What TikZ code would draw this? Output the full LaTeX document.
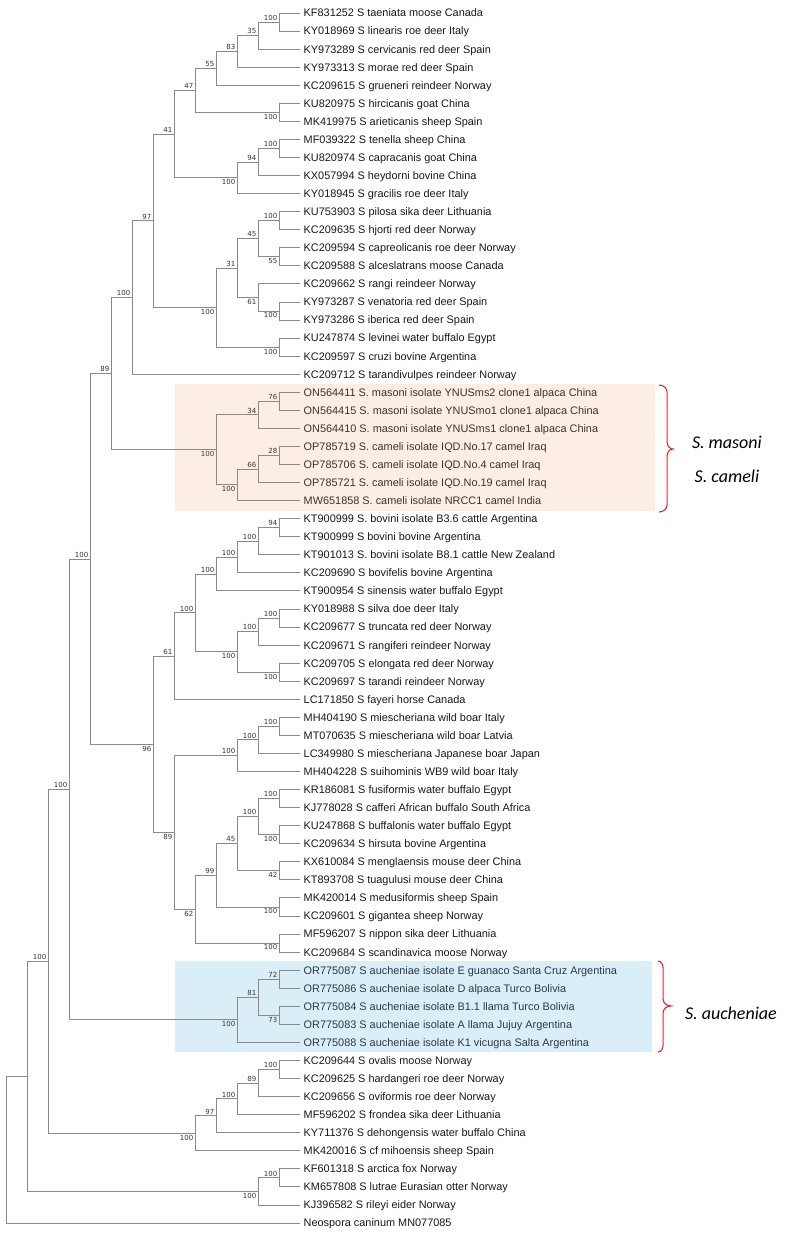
\documentclass[tikz,border=0pt]{standalone}
\usepackage{fontspec}
\setmainfont{Liberation Sans}
\newfontfamily\bsfont{DejaVu Sans}
\newfontfamily\cladefont{Carlito}
\usepackage{tikz}
\definecolor{branchgray}{HTML}{8A8A8A}
\definecolor{masonifill}{HTML}{FDEEE5}
\definecolor{auchfill}{HTML}{DAEEF7}
\definecolor{masonitext}{HTML}{3C332E}
\definecolor{auchtext}{HTML}{2D3A42}
\definecolor{bracketred}{HTML}{E8262B}
\tikzset{
  leaf/.style={anchor=west, inner xsep=3.5pt, inner ysep=0pt, text height=7.8pt, text depth=0pt,
    font=\fontsize{10.9}{12}\selectfont, text=black!90},
  bs/.style={font=\bsfont\fontsize{7}{8}\selectfont, text=black!80, inner sep=1.5pt},
  branch/.style={draw=branchgray, line width=0.9pt},
  bracket/.style={draw=bracketred, line width=1.1pt},
  cladename/.style={font=\cladefont\itshape\fontsize{18}{20}\selectfont, text=black}
}

\begin{document}
\begin{tikzpicture}[x=21pt, y=-18.06pt]
\useasboundingbox (-6pt,13pt) rectangle (779pt,-1220pt);
\fill[masonifill] (8.05,20.55) rectangle (30.9,27.6);
\fill[auchfill] (8.05,52.5) rectangle (30.76,57.53);
%
\node[leaf] (taeniata) at (14,0) {KF831252 S taeniata moose Canada};
\node[leaf] (linearis) at (14,1) {KY018969 S linearis roe deer Italy};
\node[leaf] (cervicanis) at (14,2) {KY973289 S cervicanis red deer Spain};
\node[leaf] (morae) at (14,3) {KY973313 S morae red deer Spain};
\node[leaf] (grueneri) at (14,4) {KC209615 S grueneri reindeer Norway};
\node[leaf] (hircicanis) at (14,5) {KU820975 S hircicanis goat China};
\node[leaf] (arieticanis) at (14,6) {MK419975 S arieticanis sheep Spain};
\node[leaf] (tenella) at (14,7) {MF039322 S tenella sheep China};
\node[leaf] (capracanis) at (14,8) {KU820974 S capracanis goat China};
\node[leaf] (heydorni) at (14,9) {KX057994 S heydorni bovine China};
\node[leaf] (gracilis) at (14,10) {KY018945 S gracilis roe deer Italy};
\node[leaf] (pilosa) at (14,11) {KU753903 S pilosa sika deer Lithuania};
\node[leaf] (hjorti) at (14,12) {KC209635 S hjorti red deer Norway};
\node[leaf] (capreolicanis) at (14,13) {KC209594 S capreolicanis roe deer Norway};
\node[leaf] (alceslatrans) at (14,14) {KC209588 S alceslatrans moose Canada};
\node[leaf] (rangi) at (14,15) {KC209662 S rangi reindeer Norway};
\node[leaf] (venatoria) at (14,16) {KY973287 S venatoria red deer Spain};
\node[leaf] (iberica) at (14,17) {KY973286 S iberica red deer Spain};
\node[leaf] (levinei) at (14,18) {KU247874 S levinei water buffalo Egypt};
\node[leaf] (cruzi) at (14,19) {KC209597 S cruzi bovine Argentina};
\node[leaf] (tarandivulpes) at (14,20) {KC209712 S tarandivulpes reindeer Norway};
\node[leaf, text=masonitext] (masoni1) at (14,21) {ON564411 S. masoni isolate YNUSms2 clone1 alpaca China};
\node[leaf, text=masonitext] (masoni2) at (14,22) {ON564415 S. masoni isolate YNUSmo1 clone1 alpaca China};
\node[leaf, text=masonitext] (masoni3) at (14,23) {ON564410 S. masoni isolate YNUSms1 clone1 alpaca China};
\node[leaf, text=masonitext] (cameli1) at (14,24) {OP785719 S. cameli isolate IQD.No.17 camel Iraq};
\node[leaf, text=masonitext] (cameli2) at (14,25) {OP785706 S. cameli isolate IQD.No.4 camel Iraq};
\node[leaf, text=masonitext] (cameli3) at (14,26) {OP785721 S. cameli isolate IQD.No.19 camel Iraq};
\node[leaf, text=masonitext] (cameli4) at (14,27) {MW651858 S. cameli isolate NRCC1 camel India};
\node[leaf] (bovini1) at (14,28) {KT900999 S. bovini isolate B3.6 cattle Argentina};
\node[leaf] (bovini2) at (14,29) {KT900999 S bovini bovine Argentina};
\node[leaf] (bovini3) at (14,30) {KT901013 S. bovini isolate B8.1 cattle New Zealand};
\node[leaf] (bovifelis) at (14,31) {KC209690 S bovifelis bovine Argentina};
\node[leaf] (sinensis) at (14,32) {KT900954 S sinensis water buffalo Egypt};
\node[leaf] (silva) at (14,33) {KY018988 S silva doe deer Italy};
\node[leaf] (truncata) at (14,34) {KC209677 S truncata red deer Norway};
\node[leaf] (rangiferi) at (14,35) {KC209671 S rangiferi reindeer Norway};
\node[leaf] (elongata) at (14,36) {KC209705 S elongata red deer Norway};
\node[leaf] (tarandi) at (14,37) {KC209697 S tarandi reindeer Norway};
\node[leaf] (fayeri) at (14,38) {LC171850 S fayeri horse Canada};
\node[leaf] (miesch1) at (14,39) {MH404190 S miescheriana wild boar Italy};
\node[leaf] (miesch2) at (14,40) {MT070635 S miescheriana wild boar Latvia};
\node[leaf] (miesch3) at (14,41) {LC349980 S miescheriana Japanese boar Japan};
\node[leaf] (suihominis) at (14,42) {MH404228 S suihominis WB9 wild boar Italy};
\node[leaf] (fusiformis) at (14,43) {KR186081 S fusiformis water buffalo Egypt};
\node[leaf] (cafferi) at (14,44) {KJ778028 S cafferi African buffalo South Africa};
\node[leaf] (buffalonis) at (14,45) {KU247868 S buffalonis water buffalo Egypt};
\node[leaf] (hirsuta) at (14,46) {KC209634 S hirsuta bovine Argentina};
\node[leaf] (menglaensis) at (14,47) {KX610084 S menglaensis mouse deer China};
\node[leaf] (tuagulusi) at (14,48) {KT893708 S tuagulusi mouse deer China};
\node[leaf] (medusiformis) at (14,49) {MK420014 S medusiformis sheep Spain};
\node[leaf] (gigantea) at (14,50) {KC209601 S gigantea sheep Norway};
\node[leaf] (nippon) at (14,51) {MF596207 S nippon sika deer Lithuania};
\node[leaf] (scandinavica) at (14,52) {KC209684 S scandinavica moose Norway};
\node[leaf, text=auchtext] (auch1) at (14,53) {OR775087 S aucheniae isolate E guanaco Santa Cruz Argentina};
\node[leaf, text=auchtext] (auch2) at (14,54) {OR775086 S aucheniae isolate D alpaca Turco Bolivia};
\node[leaf, text=auchtext] (auch3) at (14,55) {OR775084 S aucheniae isolate B1.1 llama Turco Bolivia};
\node[leaf, text=auchtext] (auch4) at (14,56) {OR775083 S aucheniae isolate A llama Jujuy Argentina};
\node[leaf, text=auchtext] (auch5) at (14,57) {OR775088 S aucheniae isolate K1 vicugna Salta Argentina};
\node[leaf] (ovalis) at (14,58) {KC209644 S ovalis moose Norway};
\node[leaf] (hardangeri) at (14,59) {KC209625 S hardangeri roe deer Norway};
\node[leaf] (oviformis) at (14,60) {KC209656 S oviformis roe deer Norway};
\node[leaf] (frondea) at (14,61) {MF596202 S frondea sika deer Lithuania};
\node[leaf] (dehongensis) at (14,62) {KY711376 S dehongensis water buffalo China};
\node[leaf] (mihoensis) at (14,63) {MK420016 S cf mihoensis sheep Spain};
\node[leaf] (arctica) at (14,64) {KF601318 S arctica fox Norway};
\node[leaf] (lutrae) at (14,65) {KM657808 S lutrae Eurasian otter Norway};
\node[leaf] (rileyi) at (14,66) {KJ396582 S rileyi eider Norway};
\node[leaf] (neospora) at (14,67) {Neospora caninum MN077085};
%
\coordinate[label={[bs]above left:100}] (n1) at (13,0.5);
\coordinate[label={[bs]above left:35}] (n2) at (12,1.25);
\coordinate[label={[bs]above left:83}] (n3) at (11,2.125);
\coordinate[label={[bs]above left:55}] (n4) at (10,3.0625);
\coordinate[label={[bs]below left:100}] (n5) at (13,5.5);
\coordinate[label={[bs]above left:47}] (n6) at (9,4.281);
\coordinate[label={[bs]above left:100}] (n7) at (13,7.5);
\coordinate[label={[bs]above left:94}] (n8) at (12,8.25);
\coordinate[label={[bs]below left:100}] (n9) at (11,9.125);
\coordinate[label={[bs]above left:41}] (n10) at (8,6.703);
\coordinate[label={[bs]above left:100}] (n11) at (13,11.5);
\coordinate[label={[bs]below left:55}] (n12) at (13,13.5);
\coordinate[label={[bs]above left:45}] (n13) at (12,12.5);
\coordinate[label={[bs]below left:100}] (n14) at (13,16.5);
\coordinate[label={[bs]below left:61}] (n15) at (12,15.75);
\coordinate[label={[bs]above left:31}] (n16) at (11,14.125);
\coordinate[label={[bs]below left:100}] (n17) at (13,18.5);
\coordinate[label={[bs]below left:100}] (n18) at (10,16.3125);
\coordinate[label={[bs]above left:97}] (n19) at (7,11.508);
\coordinate[label={[bs]above left:100}] (n20) at (6,15.754);
\coordinate[label={[bs,text=masonitext]above left:76}] (m1) at (13,21.5);
\coordinate[label={[bs,text=masonitext]above left:34}] (m2) at (12,22.25);
\coordinate[label={[bs,text=masonitext]above left:28}] (m3) at (13,24.5);
\coordinate[label={[bs,text=masonitext]above left:66}] (m4) at (12,25.25);
\coordinate[label={[bs,text=masonitext]below left:100}] (m5) at (11,26.125);
\coordinate[label={[bs,text=masonitext]below left:100}] (m6) at (10,24.1875);
\coordinate[label={[bs]above left:89}] (n21) at (5,19.971);
\coordinate[label={[bs]above left:94}] (n22) at (13,28.5);
\coordinate[label={[bs]above left:100}] (n23) at (12,29.25);
\coordinate[label={[bs]above left:100}] (n24) at (11,30.125);
\coordinate[label={[bs]above left:100}] (n25) at (10,31.0625);
\coordinate[label={[bs]above left:100}] (n26) at (13,33.5);
\coordinate[label={[bs]above left:100}] (n27) at (12,34.25);
\coordinate[label={[bs]below left:100}] (n28) at (13,36.5);
\coordinate[label={[bs]below left:100}] (n29) at (11,35.375);
\coordinate[label={[bs]above left:100}] (n30) at (9,33.219);
\coordinate[label={[bs]above left:61}] (n31) at (8,35.609);
\coordinate[label={[bs]above left:100}] (n32) at (13,39.5);
\coordinate[label={[bs]above left:100}] (n33) at (12,40.25);
\coordinate[label={[bs]above left:100}] (n34) at (11,41.125);
\coordinate[label={[bs]above left:100}] (n35) at (13,43.5);
\coordinate[label={[bs]below left:100}] (n36) at (13,45.5);
\coordinate[label={[bs]above left:100}] (n37) at (12,44.5);
\coordinate[label={[bs]below left:42}] (n38) at (13,47.5);
\coordinate[label={[bs]above left:45}] (n39) at (11,46);
\coordinate[label={[bs]below left:100}] (n40) at (13,49.5);
\coordinate[label={[bs]above left:99}] (n41) at (10,47.75);
\coordinate[label={[bs]below left:100}] (n42) at (13,51.5);
\coordinate[label={[bs]below left:62}] (n43) at (9,49.625);
\coordinate[label={[bs]below left:89}] (n44) at (8,45.375);
\coordinate[label={[bs]below left:96}] (n45) at (7,40.492);
\coordinate[label={[bs]above left:100}] (n46) at (4,30.232);
\coordinate[label={[bs,text=auchtext]above left:72}] (e1) at (13,53.5);
\coordinate[label={[bs,text=auchtext]below left:73}] (e2) at (13,55.5);
\coordinate[label={[bs,text=auchtext]above left:81}] (e3) at (12,54.5);
\coordinate[label={[bs,text=auchtext]below left:100}] (e4) at (11,55.75);
\coordinate[label={[bs]above left:100}] (n47) at (3,42.991);
\coordinate[label={[bs]above left:100}] (n48) at (13,58.5);
\coordinate[label={[bs]above left:89}] (n49) at (12,59.25);
\coordinate[label={[bs]above left:100}] (n50) at (11,60.125);
\coordinate[label={[bs]above left:97}] (n51) at (10,61.0625);
\coordinate[label={[bs]below left:100}] (n52) at (9,62.031);
\coordinate[label={[bs]above left:100}] (n53) at (2,52.511);
\coordinate[label={[bs]above left:100}] (n54) at (13,64.5);
\coordinate[label={[bs]below left:100}] (n55) at (12,65.25);
\coordinate (n56) at (1,58.88);
\coordinate (root) at (0,62.94);
%
\draw[branch] (n1) |- (taeniata.west) (n1) |- (linearis.west);
\draw[branch] (n2) |- (n1) (n2) |- (cervicanis.west);
\draw[branch] (n3) |- (n2) (n3) |- (morae.west);
\draw[branch] (n4) |- (n3) (n4) |- (grueneri.west);
\draw[branch] (n5) |- (hircicanis.west) (n5) |- (arieticanis.west);
\draw[branch] (n6) |- (n4) (n6) |- (n5);
\draw[branch] (n7) |- (tenella.west) (n7) |- (capracanis.west);
\draw[branch] (n8) |- (n7) (n8) |- (heydorni.west);
\draw[branch] (n9) |- (n8) (n9) |- (gracilis.west);
\draw[branch] (n10) |- (n6) (n10) |- (n9);
\draw[branch] (n11) |- (pilosa.west) (n11) |- (hjorti.west);
\draw[branch] (n12) |- (capreolicanis.west) (n12) |- (alceslatrans.west);
\draw[branch] (n13) |- (n11) (n13) |- (n12);
\draw[branch] (n14) |- (venatoria.west) (n14) |- (iberica.west);
\draw[branch] (n15) |- (rangi.west) (n15) |- (n14);
\draw[branch] (n16) |- (n13) (n16) |- (n15);
\draw[branch] (n17) |- (levinei.west) (n17) |- (cruzi.west);
\draw[branch] (n18) |- (n16) (n18) |- (n17);
\draw[branch] (n19) |- (n10) (n19) |- (n18);
\draw[branch] (n20) |- (n19) (n20) |- (tarandivulpes.west);
\draw[branch] (m1) |- (masoni1.west) (m1) |- (masoni2.west);
\draw[branch] (m2) |- (m1) (m2) |- (masoni3.west);
\draw[branch] (m3) |- (cameli1.west) (m3) |- (cameli2.west);
\draw[branch] (m4) |- (m3) (m4) |- (cameli3.west);
\draw[branch] (m5) |- (m4) (m5) |- (cameli4.west);
\draw[branch] (m6) |- (m2) (m6) |- (m5);
\draw[branch] (n21) |- (n20) (n21) |- (m6);
\draw[branch] (n22) |- (bovini1.west) (n22) |- (bovini2.west);
\draw[branch] (n23) |- (n22) (n23) |- (bovini3.west);
\draw[branch] (n24) |- (n23) (n24) |- (bovifelis.west);
\draw[branch] (n25) |- (n24) (n25) |- (sinensis.west);
\draw[branch] (n26) |- (silva.west) (n26) |- (truncata.west);
\draw[branch] (n27) |- (n26) (n27) |- (rangiferi.west);
\draw[branch] (n28) |- (elongata.west) (n28) |- (tarandi.west);
\draw[branch] (n29) |- (n27) (n29) |- (n28);
\draw[branch] (n30) |- (n25) (n30) |- (n29);
\draw[branch] (n31) |- (n30) (n31) |- (fayeri.west);
\draw[branch] (n32) |- (miesch1.west) (n32) |- (miesch2.west);
\draw[branch] (n33) |- (n32) (n33) |- (miesch3.west);
\draw[branch] (n34) |- (n33) (n34) |- (suihominis.west);
\draw[branch] (n35) |- (fusiformis.west) (n35) |- (cafferi.west);
\draw[branch] (n36) |- (buffalonis.west) (n36) |- (hirsuta.west);
\draw[branch] (n37) |- (n35) (n37) |- (n36);
\draw[branch] (n38) |- (menglaensis.west) (n38) |- (tuagulusi.west);
\draw[branch] (n39) |- (n37) (n39) |- (n38);
\draw[branch] (n40) |- (medusiformis.west) (n40) |- (gigantea.west);
\draw[branch] (n41) |- (n39) (n41) |- (n40);
\draw[branch] (n42) |- (nippon.west) (n42) |- (scandinavica.west);
\draw[branch] (n43) |- (n41) (n43) |- (n42);
\draw[branch] (n44) |- (n34) (n44) |- (n43);
\draw[branch] (n45) |- (n31) (n45) |- (n44);
\draw[branch] (n46) |- (n21) (n46) |- (n45);
\draw[branch] (e1) |- (auch1.west) (e1) |- (auch2.west);
\draw[branch] (e2) |- (auch3.west) (e2) |- (auch4.west);
\draw[branch] (e3) |- (e1) (e3) |- (e2);
\draw[branch] (e4) |- (e3) (e4) |- (auch5.west);
\draw[branch] (n47) |- (n46) (n47) |- (e4);
\draw[branch] (n48) |- (ovalis.west) (n48) |- (hardangeri.west);
\draw[branch] (n49) |- (n48) (n49) |- (oviformis.west);
\draw[branch] (n50) |- (n49) (n50) |- (frondea.west);
\draw[branch] (n51) |- (n50) (n51) |- (dehongensis.west);
\draw[branch] (n52) |- (n51) (n52) |- (mihoensis.west);
\draw[branch] (n53) |- (n47) (n53) |- (n52);
\draw[branch] (n54) |- (arctica.west) (n54) |- (lutrae.west);
\draw[branch] (n55) |- (n54) (n55) |- (rileyi.west);
\draw[branch] (n56) |- (n53) (n56) |- (n55);
\draw[branch] (root) |- (n56) (root) |- (neospora.west);
%
\draw[bracket] (31.1,20.6) to[out=0,in=90] (31.48,21.0) -- (31.48,23.75)
  to[out=-90,in=180] (31.76,24.14) to[out=180,in=90] (31.48,24.53) -- (31.48,27.23)
  to[out=-90,in=0] (31.1,27.63);
\draw[bracket] (31.05,52.5) to[out=0,in=90] (31.29,52.9) -- (31.29,54.6)
  to[out=-90,in=180] (31.67,54.98) to[out=180,in=90] (31.29,55.36) -- (31.29,57.13)
  to[out=-90,in=0] (31.05,57.53);
\node[cladename] (masoni) at (34.33,23.75) {S. masoni};
\node[cladename] (cameli) at (34.33,25.64) {S. cameli};
\node[cladename] (aucheniae) at (34.52,55.37) {S. aucheniae};
\end{tikzpicture}
\end{document}
